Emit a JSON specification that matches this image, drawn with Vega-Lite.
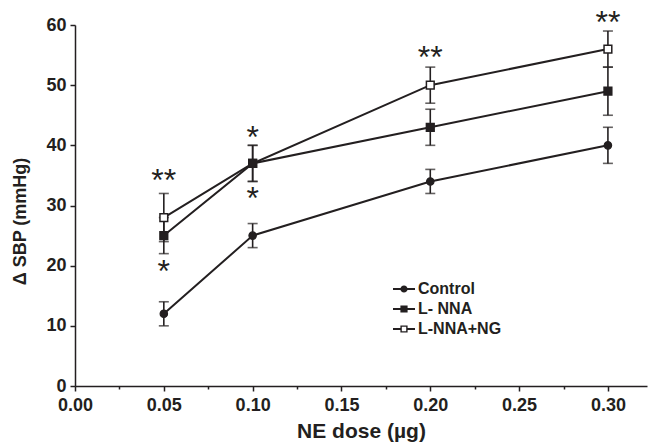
{
  "$schema": "https://vega.github.io/schema/vega-lite/v6.json",
  "width": 572,
  "height": 361,
  "autosize": "none",
  "padding": {"left": 75, "top": 25, "right": 2, "bottom": 61},
  "background": "white",
  "config": {
    "view": {"stroke": null},
    "font": "Liberation Sans",
    "axis": {
      "grid": false,
      "domainColor": "#231f20",
      "domainWidth": 1.5,
      "tickColor": "#231f20",
      "tickWidth": 1.5,
      "labelFont": "Liberation Sans",
      "labelFontWeight": "bold",
      "labelFontSize": 18,
      "labelColor": "#231f20",
      "titleFont": "Liberation Sans",
      "titleFontWeight": "bold",
      "titleColor": "#231f20",
      "labelFlush": false,
      "labelOverlap": false
    }
  },
  "datasets": {
    "sbp": [
      {"dose": 0.05, "group": "Control", "sbp": 12, "lo": 10, "hi": 14},
      {"dose": 0.1, "group": "Control", "sbp": 25, "lo": 23, "hi": 27},
      {"dose": 0.2, "group": "Control", "sbp": 34, "lo": 32, "hi": 36},
      {"dose": 0.3, "group": "Control", "sbp": 40, "lo": 37, "hi": 43},
      {"dose": 0.05, "group": "L-NNA+NG", "sbp": 28, "lo": 24, "hi": 32},
      {"dose": 0.1, "group": "L-NNA+NG", "sbp": 37, "lo": 34, "hi": 40},
      {"dose": 0.2, "group": "L-NNA+NG", "sbp": 50, "lo": 47, "hi": 53},
      {"dose": 0.3, "group": "L-NNA+NG", "sbp": 56, "lo": 53, "hi": 59},
      {"dose": 0.05, "group": "L- NNA", "sbp": 25, "lo": 22, "hi": 28},
      {"dose": 0.1, "group": "L- NNA", "sbp": 37, "lo": 34, "hi": 40},
      {"dose": 0.2, "group": "L- NNA", "sbp": 43, "lo": 40, "hi": 46},
      {"dose": 0.3, "group": "L- NNA", "sbp": 49, "lo": 45, "hi": 53}
    ],
    "stars": [
      {"dose": 0.05, "y": 35.4, "t": "**"},
      {"dose": 0.05, "y": 20.2, "t": "*"},
      {"dose": 0.1, "y": 42.5, "t": "*"},
      {"dose": 0.1, "y": 32.4, "t": "*"},
      {"dose": 0.2, "y": 55.8, "t": "**"},
      {"dose": 0.3, "y": 61.7, "t": "**"}
    ]
  },
  "layer": [
    {
      "data": {"name": "sbp"},
      "mark": {
        "type": "errorbar",
        "ticks": {"size": 10, "thickness": 1.6, "color": "#231f20"},
        "rule": {"strokeWidth": 1.6, "color": "#231f20"}
      },
      "encoding": {
        "x": {
          "field": "dose", "type": "quantitative",
          "scale": {"domain": [0, 0.322], "nice": false, "zero": false},
          "title": "NE dose (µg)",
          "axis": {
            "values": [0, 0.025, 0.05, 0.075, 0.1, 0.125, 0.15, 0.175, 0.2, 0.225, 0.25, 0.275, 0.3],
            "labelExpr": "round(datum.value*1000) % 50 == 0 ? format(datum.value, '.2f') : ''",
            "tickSize": {"condition": {"test": "round(datum.value*1000) % 50 != 0", "value": 3}, "value": 5},
            "labelPadding": 5,
            "titleFontSize": 21,
            "titlePadding": 6
          }
        },
        "y": {
          "field": "lo", "type": "quantitative",
          "scale": {"domain": [0, 60], "nice": false},
          "title": "Δ SBP (mmHg)",
          "axis": {
            "values": [0, 10, 20, 30, 40, 50, 60],
            "tickSize": 5,
            "labelPadding": 4,
            "titleFontSize": 18,
            "titleX": -46,
            "titleY": 196
          }
        },
        "y2": {"field": "hi"}
      }
    },
    {
      "data": {"name": "sbp"},
      "mark": {"type": "line", "color": "#231f20", "strokeWidth": 2},
      "encoding": {
        "x": {"field": "dose", "type": "quantitative", "title": "NE dose (µg)"},
        "y": {"field": "sbp", "type": "quantitative", "title": "Δ SBP (mmHg)"},
        "detail": {"field": "group"}
      }
    },
    {
      "data": {"name": "sbp"},
      "mark": {"type": "point", "filled": true, "opacity": 0, "color": "#231f20"},
      "encoding": {
        "x": {"field": "dose", "type": "quantitative", "title": "NE dose (µg)"},
        "y": {"field": "sbp", "type": "quantitative", "title": "Δ SBP (mmHg)"},
        "shape": {
          "field": "group", "type": "nominal",
          "scale": {
            "domain": ["Control", "L- NNA", "L-NNA+NG"],
            "range": [
              "M-1.1,-0.09H-0.3V0.09H-1.1ZM0.3,-0.09H1.1V0.09H0.3ZM-0.36,0A0.36,0.36 0 1,1 0.36,0A0.36,0.36 0 1,1 -0.36,0Z",
              "M-1.1,-0.09H-0.3V0.09H-1.1ZM0.3,-0.09H1.1V0.09H0.3ZM-0.36,-0.36H0.36V0.36H-0.36Z",
              "M-1.1,-0.09H-0.3V0.09H-1.1ZM0.3,-0.09H1.1V0.09H0.3ZM-0.36,-0.36H0.36V0.36H-0.36ZM-0.22,-0.22V0.22H0.22V-0.22Z"
            ]
          },
          "legend": {
            "title": null,
            "orient": "none",
            "legendX": 318,
            "legendY": 253,
            "padding": 0,
            "symbolSize": 400,
            "symbolOpacity": 1,
            "symbolFillColor": "#231f20",
            "rowPadding": 1,
            "labelOffset": 3,
            "labelFont": "Liberation Sans",
            "labelFontWeight": "bold",
            "labelFontSize": 16,
            "labelColor": "#231f20"
          }
        }
      }
    },
    {
      "data": {"name": "sbp"},
      "transform": [{"filter": "datum.group === 'Control'"}],
      "mark": {"type": "point", "shape": "circle", "filled": true, "size": 55, "fill": "#231f20", "stroke": "#231f20", "strokeWidth": 1.2, "opacity": 1},
      "encoding": {
        "x": {"field": "dose", "type": "quantitative", "title": "NE dose (µg)"},
        "y": {"field": "sbp", "type": "quantitative", "title": "Δ SBP (mmHg)"}
      }
    },
    {
      "data": {"name": "sbp"},
      "transform": [{"filter": "datum.group !== 'Control'"}],
      "mark": {"type": "point", "shape": "square", "filled": true, "size": 60, "stroke": "#231f20", "strokeWidth": 1.5, "opacity": 1},
      "encoding": {
        "x": {"field": "dose", "type": "quantitative", "title": "NE dose (µg)"},
        "y": {"field": "sbp", "type": "quantitative", "title": "Δ SBP (mmHg)"},
        "fill": {"condition": {"test": "datum.group === 'L-NNA+NG'", "value": "white"}, "value": "#231f20"}
      }
    },
    {
      "data": {"name": "stars"},
      "mark": {"type": "text", "font": "Liberation Sans", "fontSize": 32, "baseline": "alphabetic", "dy": 18, "color": "#231f20"},
      "encoding": {
        "x": {"field": "dose", "type": "quantitative", "title": "NE dose (µg)"},
        "y": {"field": "y", "type": "quantitative", "title": "Δ SBP (mmHg)"},
        "text": {"field": "t"}
      }
    }
  ]
}
